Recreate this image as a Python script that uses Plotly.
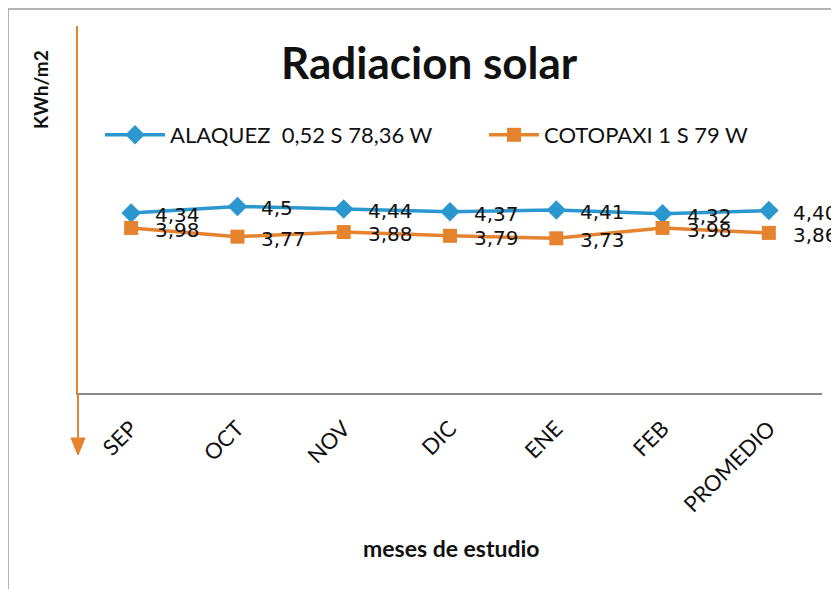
import plotly.graph_objects as go

categories = ["SEP", "OCT", "NOV", "DIC", "ENE", "FEB", "PROMEDIO"]
alaquez = [4.34, 4.5, 4.44, 4.37, 4.41, 4.32, 4.40]
cotopaxi = [3.98, 3.77, 3.88, 3.79, 3.73, 3.98, 3.86]
alaquez_labels = ["4,34", "4,5", "4,44", "4,37", "4,41", "4,32", "4,40"]
cotopaxi_labels = ["3,98", "3,77", "3,88", "3,79", "3,73", "3,98", "3,86"]
series_names = ["ALAQUEZ\u00a0 0,52 S 78,36 W", "COTOPAXI 1 S 79 W"]

BLUE = "#2B97CF"
ORANGE = "#E5832F"
OFF = 8  # page body margin
W, H = 839, 589
L, R, T, B = 70, 25, 18, 204
pw, ph = W - L - R, H - T - B

def px(x):
    return (x - OFF - L) / pw

def py(y):
    return (H - B - (y - OFF)) / ph

fig = go.Figure()
fig.add_trace(go.Scatter(
    x=categories, y=alaquez, name=series_names[0], mode="lines+markers",
    line=dict(color=BLUE, width=3.5),
    marker=dict(symbol="diamond", size=15, color=BLUE),
    legend="legend",
))
fig.add_trace(go.Scatter(
    x=categories, y=cotopaxi, name=series_names[1], mode="lines+markers",
    line=dict(color=ORANGE, width=3.5),
    marker=dict(symbol="square", size=14, color=ORANGE),
    legend="legend2",
))

annotations = []
for cat, v, lab in zip(categories, alaquez, alaquez_labels):
    annotations.append(dict(x=cat, y=v, xref="x", yref="y", text=lab, showarrow=False,
                            xanchor="left", yanchor="middle", xshift=22, yshift=-2,
                            font=dict(family="DejaVu Sans", size=20, color="#111111")))
for cat, v, lab in zip(categories, cotopaxi, cotopaxi_labels):
    annotations.append(dict(x=cat, y=v, xref="x", yref="y", text=lab, showarrow=False,
                            xanchor="left", yanchor="middle", xshift=22, yshift=-2,
                            font=dict(family="DejaVu Sans", size=20, color="#111111")))

annotations.append(dict(x=px(429), y=py(62), xref="paper", yref="paper", text="<b>Radiacion solar</b>",
                        showarrow=False, xanchor="center", yanchor="middle",
                        font=dict(family="Lato", size=44, color="#111111")))
annotations.append(dict(x=px(451), y=py(548), xref="paper", yref="paper", text="<b>meses de estudio</b>",
                        showarrow=False, xanchor="center", yanchor="middle",
                        font=dict(family="Lato", size=23, color="#111111")))
annotations.append(dict(x=px(40), y=py(90), xref="paper", yref="paper", text="<b>KWh/m2</b>",
                        showarrow=False, xanchor="center", yanchor="middle", textangle=-90,
                        font=dict(family="Lato", size=19, color="#111111")))

shapes = [
    dict(type="rect", xref="paper", yref="paper", x0=px(8), x1=px(860), y0=py(620), y1=py(9),
         line=dict(color="#9a9a9a", width=1.5), fillcolor="rgba(0,0,0,0)", layer="below"),
    dict(type="line", xref="paper", yref="paper", x0=0, x1=0, y0=0, y1=py(442),
         line=dict(color=ORANGE, width=2)),
    dict(type="path", xref="paper", yref="paper",
         path=f"M {px(71)},{py(438)} L {px(85)},{py(438)} L {px(78)},{py(455)} Z",
         fillcolor=ORANGE, line=dict(color=ORANGE, width=1)),
]

legend_font = dict(family="Lato", size=22, color="#111111")
fig.update_layout(
    width=W, height=H,
    margin=dict(l=L, r=R, t=T, b=B),
    paper_bgcolor="white", plot_bgcolor="white",
    showlegend=True,
    legend=dict(orientation="h", x=px(100), y=py(135), xanchor="left", yanchor="middle",
                font=legend_font, bgcolor="rgba(0,0,0,0)", itemwidth=60),
    legend2=dict(orientation="h", x=px(484), y=py(135), xanchor="left", yanchor="middle",
                 font=legend_font, bgcolor="rgba(0,0,0,0)", itemwidth=50),
    xaxis=dict(range=[-0.5, 6.5], showgrid=False, zeroline=False, showline=True,
               linecolor="#8c8c8c", linewidth=2, ticks="", tickangle=-45,
               ticklabelstandoff=12,
               tickfont=dict(family="Lato", size=22, color="#111111")),
    yaxis=dict(range=[0, 8.85], showgrid=False, zeroline=False, showline=True,
               linecolor=ORANGE, linewidth=2, showticklabels=False, ticks=""),
    annotations=annotations,
    shapes=shapes,
)

fig.write_html("out.html")
